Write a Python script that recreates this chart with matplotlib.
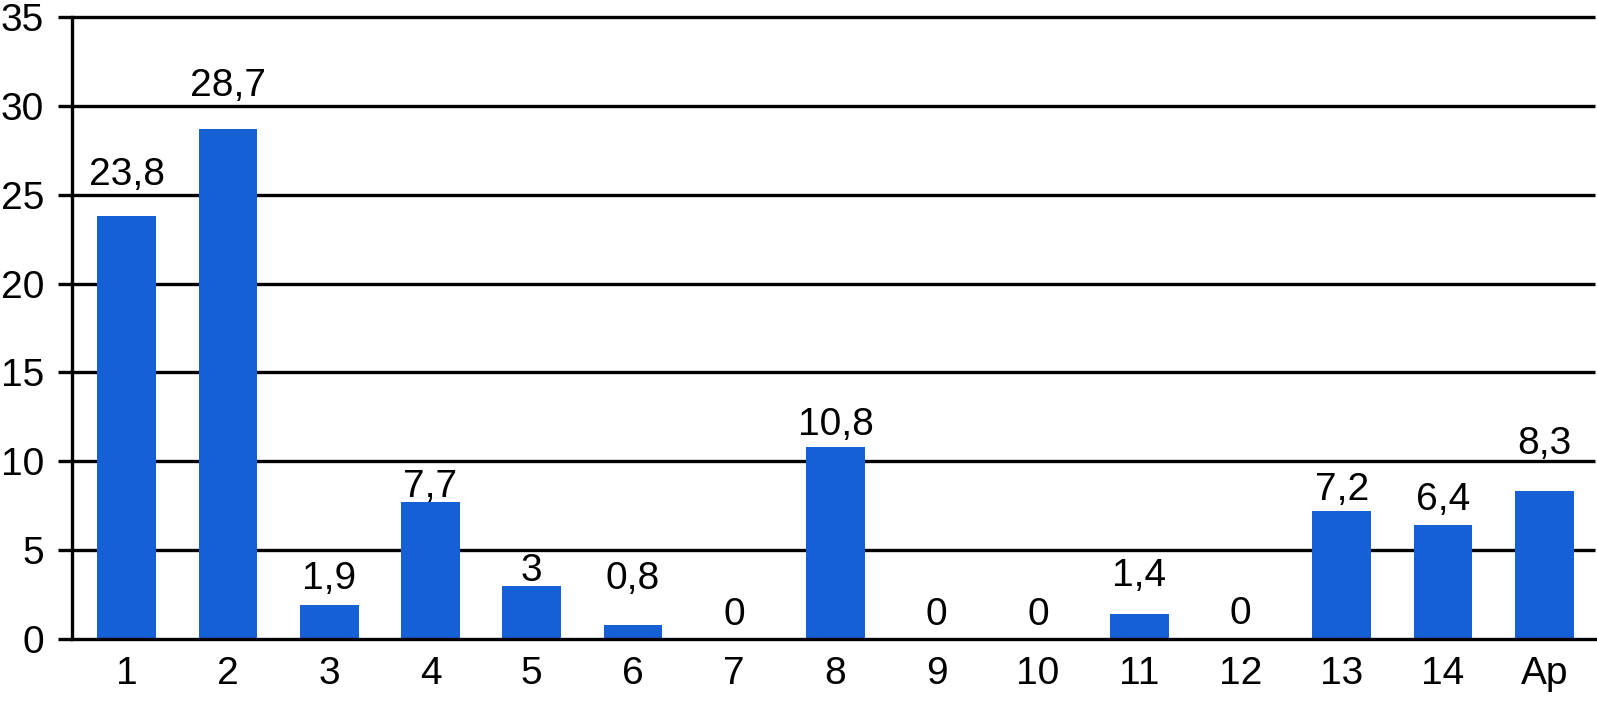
import matplotlib.pyplot as plt

# datos del grafico
categorias = ["1", "2", "3", "4", "5", "6", "7", "8", "9", "10", "11", "12", "13", "14", "Ap"]
valores = [23.8, 28.7, 1.9, 7.7, 3, 0.8, 0, 10.8, 0, 0, 1.4, 0, 7.2, 6.4, 8.3]
etiquetas = ["23,8", "28,7", "1,9", "7,7", "3", "0,8", "0", "10,8", "0", "0", "1,4", "0", "7,2", "6,4", "8,3"]
marcas_y = [0, 5, 10, 15, 20, 25, 30, 35]

# separacion de cada etiqueta sobre la barra (en puntos)
separacion = [22, 24, 12, 4, 3, 26, 10, 9, 10, 10, 20, 11, 8, 11, 27]

plt.rcParams['font.family'] = ['Liberation Sans', 'DejaVu Sans']

fig = plt.figure(figsize=(15.97, 7.08), dpi=100)
ax = fig.add_axes([0.0451, 0.0975, 0.9536, 0.8785])

x = list(range(len(categorias)))
ax.bar(x, valores, width=0.58, color='#1660d5', zorder=2)

# lineas horizontales de la grilla
ax.hlines(marcas_y[1:], -0.54, 14.5, color='black', linewidth=2.4, zorder=1, clip_on=False)

for xi, v, t, s in zip(x, valores, etiquetas, separacion):
    ax.annotate(t, (xi, v), xytext=(0, s), textcoords='offset points',
                ha='center', va='baseline', fontsize=28, zorder=3)

ax.set_xlim(-0.54, 14.5)
ax.set_ylim(0, 35)
ax.set_xticks(x)
ax.set_xticklabels(categorias)
ax.set_yticks(marcas_y)

for lado in ['top', 'right']:
    ax.spines[lado].set_visible(False)
for lado in ['left', 'bottom']:
    ax.spines[lado].set_linewidth(2.4)
    ax.spines[lado].set_color('black')

ax.tick_params(axis='y', length=10, width=2.4, pad=10, labelsize=28)
ax.tick_params(axis='x', length=0, pad=12, labelsize=28)

fig.savefig('out.png', dpi=100)
